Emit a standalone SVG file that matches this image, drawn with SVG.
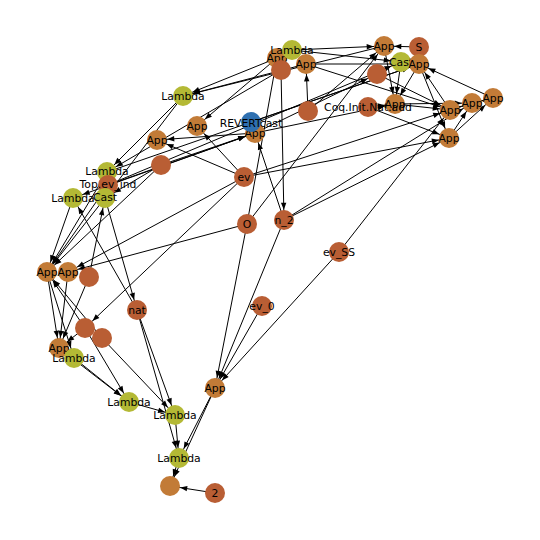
<svg xmlns="http://www.w3.org/2000/svg" width="540" height="540" viewBox="0 0 540 540">
<style>
.e line{stroke:#000;stroke-width:1}
.n circle{stroke:none}
.a{fill:#c27b37}
.d{fill:#b95e34}
.y{fill:#b4b935}
.b{fill:#2f70b0}
.n text{font-family:"DejaVu Sans",sans-serif;font-size:10.8px;text-anchor:middle;dominant-baseline:central;fill:#000}
</style>
<defs>
<marker id="ah" markerUnits="userSpaceOnUse" markerWidth="20" markerHeight="8" refX="17.3" refY="3" orient="auto" overflow="visible">
<path d="M0,0.3 L7,3 L0,5.7 z" fill="#000"/>
</marker>
</defs>
<rect width="540" height="540" fill="#fff"/>
<g id="edges" class="e" marker-end="url(#ah)">
<line x1="277" y1="58" x2="183" y2="96"/>
<line x1="306" y1="64" x2="183" y2="96"/>
<line x1="384" y1="46" x2="183" y2="96"/>
<line x1="292" y1="50" x2="384" y2="46"/>
<line x1="292" y1="50" x2="401" y2="62"/>
<line x1="306" y1="64" x2="419" y2="64"/>
<line x1="308" y1="111" x2="306" y2="64"/>
<line x1="277" y1="58" x2="197" y2="126"/>
<line x1="419" y1="47" x2="384" y2="46"/>
<line x1="384" y1="46" x2="395" y2="104"/>
<line x1="419" y1="64" x2="395" y2="104"/>
<line x1="401" y1="62" x2="395" y2="104"/>
<line x1="308" y1="111" x2="384" y2="46"/>
<line x1="450" y1="110" x2="419" y2="64"/>
<line x1="493" y1="98" x2="419" y2="64"/>
<line x1="419" y1="64" x2="449" y2="138"/>
<line x1="377" y1="74" x2="450" y2="110"/>
<line x1="368" y1="107" x2="449" y2="138"/>
<line x1="368" y1="107" x2="395" y2="104"/>
<line x1="395" y1="104" x2="450" y2="110"/>
<line x1="395" y1="104" x2="472" y2="103"/>
<line x1="450" y1="110" x2="472" y2="103"/>
<line x1="472" y1="103" x2="493" y2="98"/>
<line x1="449" y1="138" x2="472" y2="103"/>
<line x1="449" y1="138" x2="493" y2="98"/>
<line x1="306" y1="64" x2="450" y2="110"/>
<line x1="183" y1="96" x2="107" y2="172"/>
<line x1="281" y1="70" x2="107" y2="172"/>
<line x1="183" y1="96" x2="105" y2="198"/>
<line x1="244" y1="177" x2="197" y2="126"/>
<line x1="244" y1="177" x2="157" y2="140"/>
<line x1="255" y1="133" x2="157" y2="140"/>
<line x1="108" y1="185" x2="255" y2="133"/>
<line x1="161" y1="165" x2="255" y2="133"/>
<line x1="244" y1="177" x2="68" y2="272"/>
<line x1="247" y1="224" x2="68" y2="272"/>
<line x1="244" y1="177" x2="450" y2="110"/>
<line x1="244" y1="177" x2="449" y2="138"/>
<line x1="284" y1="220" x2="449" y2="138"/>
<line x1="284" y1="220" x2="472" y2="103"/>
<line x1="284" y1="220" x2="255" y2="133"/>
<line x1="281" y1="70" x2="284" y2="220"/>
<line x1="247" y1="224" x2="277" y2="58"/>
<line x1="247" y1="224" x2="384" y2="46"/>
<line x1="339" y1="252" x2="450" y2="110"/>
<line x1="339" y1="252" x2="215" y2="388"/>
<line x1="262" y1="306" x2="215" y2="388"/>
<line x1="247" y1="224" x2="215" y2="388"/>
<line x1="284" y1="220" x2="215" y2="388"/>
<line x1="215" y1="388" x2="179" y2="458"/>
<line x1="215" y1="388" x2="170" y2="486"/>
<line x1="179" y1="458" x2="170" y2="486"/>
<line x1="215" y1="493" x2="170" y2="486"/>
<line x1="175" y1="415" x2="179" y2="458"/>
<line x1="129" y1="402" x2="175" y2="415"/>
<line x1="102" y1="338" x2="175" y2="415"/>
<line x1="137" y1="310" x2="175" y2="415"/>
<line x1="137" y1="310" x2="179" y2="458"/>
<line x1="74" y1="358" x2="129" y2="402"/>
<line x1="59" y1="348" x2="129" y2="402"/>
<line x1="85" y1="328" x2="129" y2="402"/>
<line x1="85" y1="328" x2="47" y2="272"/>
<line x1="102" y1="338" x2="47" y2="272"/>
<line x1="137" y1="310" x2="73" y2="198"/>
<line x1="105" y1="198" x2="137" y2="310"/>
<line x1="89" y1="277" x2="105" y2="198"/>
<line x1="161" y1="165" x2="105" y2="198"/>
<line x1="255" y1="133" x2="73" y2="198"/>
<line x1="47" y1="272" x2="59" y2="348"/>
<line x1="47" y1="272" x2="74" y2="358"/>
<line x1="68" y1="272" x2="59" y2="348"/>
<line x1="89" y1="277" x2="59" y2="348"/>
<line x1="85" y1="328" x2="59" y2="348"/>
<line x1="244" y1="177" x2="85" y2="328"/>
<line x1="73" y1="198" x2="47" y2="272"/>
<line x1="105" y1="198" x2="47" y2="272"/>
<line x1="108" y1="185" x2="47" y2="272"/>
<line x1="107" y1="172" x2="47" y2="272"/>
<line x1="161" y1="165" x2="47" y2="272"/>
<line x1="107" y1="172" x2="419" y2="64"/>
<line x1="108" y1="185" x2="401" y2="62"/>
<line x1="251" y1="122" x2="419" y2="64"/>
<line x1="255" y1="133" x2="395" y2="104"/>
<line x1="255" y1="133" x2="377" y2="74"/>
</g>
<g id="n-app1" class="n"><circle class="a" cx="277" cy="58" r="10"/><text x="277" y="58">App</text></g>
<g id="n-u1" class="n"><circle class="d" cx="281" cy="70" r="10"/></g>
<g id="n-lambda1" class="n"><circle class="y" cx="292" cy="50" r="10"/><text x="292" y="50">Lambda</text></g>
<g id="n-app2" class="n"><circle class="a" cx="306" cy="64" r="10"/><text x="306" y="64">App</text></g>
<g id="n-app3" class="n"><circle class="a" cx="384" cy="46" r="10"/><text x="384" y="46">App</text></g>
<g id="n-s" class="n"><circle class="d" cx="419" cy="47" r="10"/><text x="419" y="47">S</text></g>
<g id="n-cast1" class="n"><circle class="y" cx="401" cy="62" r="10"/><text x="401" y="62">Cast</text></g>
<g id="n-app4" class="n"><circle class="a" cx="419" cy="64" r="10"/><text x="419" y="64">App</text></g>
<g id="n-u2" class="n"><circle class="d" cx="377" cy="74" r="10"/></g>
<g id="n-lambda2" class="n"><circle class="y" cx="183" cy="96" r="10"/><text x="183" y="96">Lambda</text></g>
<g id="n-app5" class="n"><circle class="a" cx="395" cy="104" r="10"/><text x="395" y="104">App</text></g>
<g id="n-natadd" class="n"><circle class="d" cx="368" cy="107" r="10"/><text x="368" y="107">Coq.Init.Nat.add</text></g>
<g id="n-u3" class="n"><circle class="d" cx="308" cy="111" r="10"/></g>
<g id="n-app6" class="n"><circle class="a" cx="450" cy="110" r="10"/><text x="450" y="110">App</text></g>
<g id="n-app7" class="n"><circle class="a" cx="472" cy="103" r="10"/><text x="472" y="103">App</text></g>
<g id="n-app8" class="n"><circle class="a" cx="493" cy="98" r="10"/><text x="493" y="98">App</text></g>
<g id="n-app9" class="n"><circle class="a" cx="449" cy="138" r="10"/><text x="449" y="138">App</text></g>
<g id="n-app10" class="n"><circle class="a" cx="197" cy="126" r="10"/><text x="197" y="126">App</text></g>
<g id="n-app11" class="n"><circle class="a" cx="255" cy="133" r="10"/><text x="255" y="133">App</text></g>
<g id="n-revert" class="n"><circle class="b" cx="251" cy="122" r="10"/><text x="251" y="123">REVERTcast</text></g>
<g id="n-app12" class="n"><circle class="a" cx="157" cy="140" r="10"/><text x="157" y="140">App</text></g>
<g id="n-u4" class="n"><circle class="d" cx="161" cy="165" r="10"/></g>
<g id="n-ev" class="n"><circle class="d" cx="244" cy="177" r="10"/><text x="244" y="177">ev</text></g>
<g id="n-lambda3" class="n"><circle class="y" cx="107" cy="172" r="10"/><text x="107" y="171">Lambda</text></g>
<g id="n-evind" class="n"><circle class="d" cx="108" cy="185" r="10"/></g>
<g id="n-cast2" class="n"><circle class="y" cx="105" cy="198" r="10"/></g>
<g id="n-lambda4" class="n"><circle class="y" cx="73" cy="198" r="10"/><text x="73" y="198">Lambda</text></g>
<g id="n-labels-left" class="n"><text x="108" y="184">Top.ev_ind</text><text x="105" y="197">Cast</text></g>
<g id="n-o" class="n"><circle class="d" cx="247" cy="224" r="10"/><text x="247" y="224">O</text></g>
<g id="n-n2" class="n"><circle class="d" cx="284" cy="220" r="10"/><text x="284" y="220">n_2</text></g>
<g id="n-evss" class="n"><circle class="d" cx="339" cy="252" r="10"/><text x="339" y="252">ev_SS</text></g>
<g id="n-app13" class="n"><circle class="a" cx="47" cy="272" r="10"/><text x="47" y="272">App</text></g>
<g id="n-app14" class="n"><circle class="a" cx="68" cy="272" r="10"/><text x="68" y="272">App</text></g>
<g id="n-u5" class="n"><circle class="d" cx="89" cy="277" r="10"/></g>
<g id="n-nat" class="n"><circle class="d" cx="137" cy="310" r="10"/><text x="137" y="310">nat</text></g>
<g id="n-ev0" class="n"><circle class="d" cx="262" cy="306" r="10"/><text x="262" y="306">ev_0</text></g>
<g id="n-u6" class="n"><circle class="d" cx="85" cy="328" r="10"/></g>
<g id="n-u7" class="n"><circle class="d" cx="102" cy="338" r="10"/></g>
<g id="n-app15" class="n"><circle class="a" cx="59" cy="348" r="10"/><text x="59" y="348">App</text></g>
<g id="n-lambda5" class="n"><circle class="y" cx="74" cy="358" r="10"/><text x="74" y="358">Lambda</text></g>
<g id="n-lambda6" class="n"><circle class="y" cx="129" cy="402" r="10"/><text x="129" y="402">Lambda</text></g>
<g id="n-lambda7" class="n"><circle class="y" cx="175" cy="415" r="10"/><text x="175" y="415">Lambda</text></g>
<g id="n-app16" class="n"><circle class="a" cx="215" cy="388" r="10"/><text x="215" y="388">App</text></g>
<g id="n-lambda8" class="n"><circle class="y" cx="179" cy="458" r="10"/><text x="179" y="458">Lambda</text></g>
<g id="n-u8" class="n"><circle class="a" cx="170" cy="486" r="10"/></g>
<g id="n-two" class="n"><circle class="d" cx="215" cy="493" r="10"/><text x="215" y="493">2</text></g>
</svg>
